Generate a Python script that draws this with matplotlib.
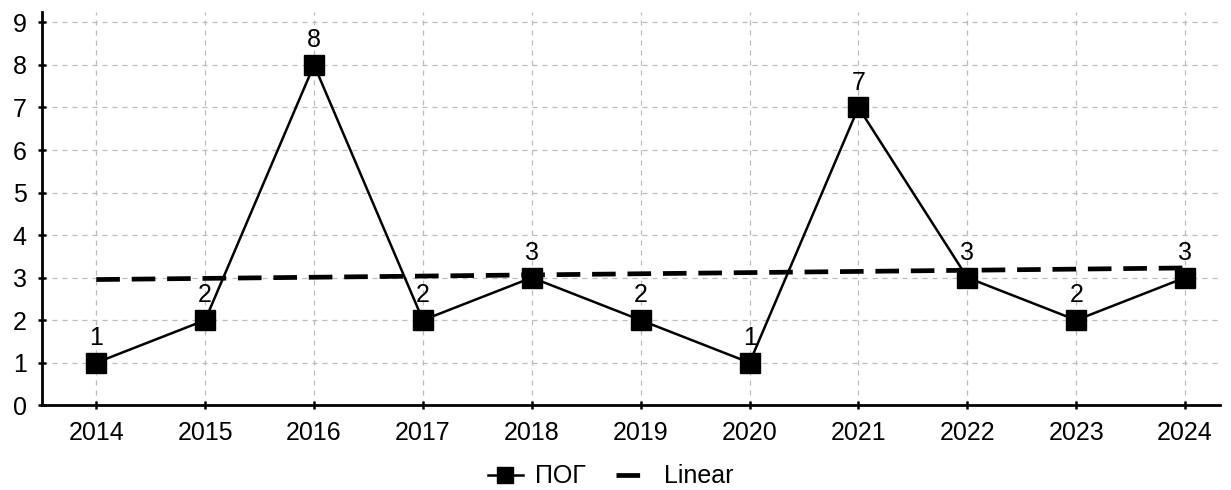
import numpy as np
import matplotlib
matplotlib.use('Agg')
import matplotlib.pyplot as plt

plt.rcParams['font.family'] = ['Liberation Sans', 'DejaVu Sans']

years = [2014, 2015, 2016, 2017, 2018, 2019, 2020, 2021, 2022, 2023, 2024]
values = [1, 2, 8, 2, 3, 2, 1, 7, 3, 2, 3]

# linear trend
k, b = np.polyfit(years, values, 1)
trend = [k * x + b for x in years]

fig = plt.figure(figsize=(12.31, 4.9), dpi=100)
ax = fig.add_axes([0.034, 0.173, 0.957, 0.803])

ax.plot(years, values, color='black', lw=1.8, marker='s', markersize=15,
        label='ПОГ', zorder=3)
ax.plot(years, trend, color='black', lw=3.4, dashes=(5, 2.5), label='Linear', zorder=2)

for x, y in zip(years, values):
    ax.text(x, y + 0.3, str(y), ha='center', va='bottom', fontsize=18)

ax.set_xlim(2013.5, 2024.32)
ax.set_ylim(0, 9.25)
ax.set_xticks(years)
ax.set_yticks(range(0, 10))
ax.tick_params(axis='both', labelsize=18, width=1.8, length=6, direction='inout')
ax.tick_params(axis='x', pad=8)
ax.tick_params(axis='y', pad=8)

ax.grid(True, color='#bbbbbb', ls=(0, (4, 4)), lw=0.9)
ax.spines['top'].set_visible(False)
ax.spines['right'].set_visible(False)
ax.spines['left'].set_linewidth(2)
ax.spines['bottom'].set_linewidth(2)

fig.legend(loc='center', bbox_to_anchor=(0.496, 0.028), ncol=2, frameon=False,
           fontsize=18, handlelength=1.4, columnspacing=1.2, handletextpad=0.5,
           markerscale=0.75, borderpad=0.1)

plt.savefig('out.png', dpi=100)
